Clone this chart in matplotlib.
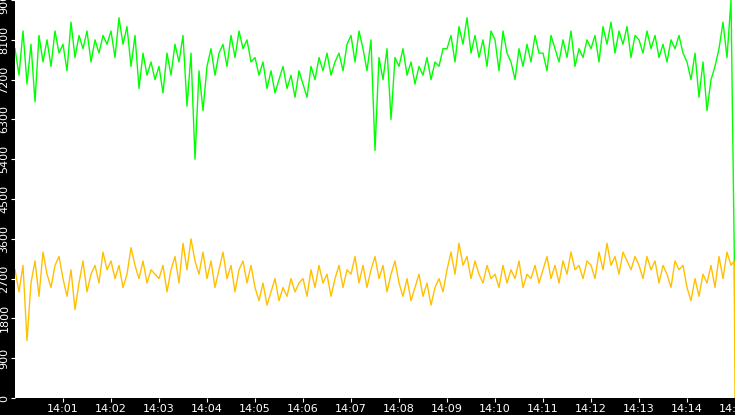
import matplotlib
matplotlib.use("Agg")
import matplotlib.pyplot as plt
import numpy as np

# 5-second samples, one row per minute, starting 14:00:00
green = [
    7900, 7300, 8300, 7100, 8000, 6700, 8200, 7600, 8100, 7500, 8300, 7800,
    8000, 7400, 8500, 7700, 8200, 7900, 8300, 7600, 8100, 7800, 8200, 8000,
    8300, 7700, 8600, 8000, 8400, 7500, 8200, 7000, 7800, 7300, 7600, 7200,
    7500, 6900, 7800, 7300, 8000, 7600, 8200, 6600, 7800, 5400, 7400, 6500,
    7500, 7900, 7300, 7800, 8000, 7500, 8200, 7700, 8300, 7900, 8100, 7600,
    7700, 7300, 7600, 7000, 7400, 6900, 7200, 7500, 7000, 7300, 6800, 7400,
    7100, 6800, 7500, 7200, 7700, 7400, 7800, 7300, 7600, 7800, 7400, 8000,
    8200, 7600, 8300, 7900, 7400, 8100, 5600, 7700, 7200, 7900, 6300, 7700,
    7500, 7900, 7300, 7600, 7100, 7500, 7300, 7700, 7200, 7600, 7500, 7900,
    7900, 8200, 7600, 8400, 8000, 8600, 7800, 8200, 7700, 8100, 7500, 8300,
    8100, 7400, 8300, 7800, 7600, 7200, 7900, 7500, 8000, 7600, 8200, 7800,
    7800, 7400, 8200, 7900, 7600, 8100, 7700, 8300, 7500, 7900, 7700, 8100,
    7900, 8200, 7600, 8400, 8000, 8500, 7800, 8300, 8000, 8400, 7700, 8200,
    8100, 7800, 8300, 7900, 8200, 7700, 8000, 7600, 8100, 7900, 8200, 7800,
    7600, 7200, 7800, 6800, 7600, 6500, 7200, 7500, 7900, 8500, 7700, 9001,
    3400, 1200,
]
yellow = [
    2900, 2400, 3000, 1300, 2600, 3100, 2300, 3300, 2800, 2500, 3000, 3200,
    2700, 2300, 2900, 2000, 2600, 3100, 2400, 2800, 3000, 2600, 3300, 2900,
    3100, 2700, 3000, 2500, 2800, 3400, 3000, 2700, 3100, 2600, 2900, 2800,
    2700, 3000, 2400, 2900, 3200, 2600, 3500, 2900, 3600, 3100, 2800, 3300,
    2700, 3100, 2500, 2900, 3300, 2700, 3000, 2400, 2900, 3100, 2600, 3000,
    2500, 2200, 2600, 2100, 2400, 2700, 2200, 2500, 2300, 2700, 2400, 2600,
    2700, 2300, 2900, 2500, 3000, 2600, 2800, 2300, 2700, 3000, 2500, 2900,
    2800, 3200, 2600, 3000, 2500, 2900, 3200, 2700, 3000, 2400, 2800, 3100,
    2600, 2300, 2700, 2200, 2500, 2800, 2300, 2600, 2100, 2500, 2700, 2400,
    2900, 3300, 2800, 3500, 3000, 3200, 2700, 3100, 2800, 2600, 3000, 2700,
    2800, 2500, 3000, 2600, 2900, 2700, 3100, 2500, 2800, 2700, 3000, 2600,
    2900, 3200, 2700, 3000, 2600, 3100, 2800, 3300, 2900, 3000, 2700, 3100,
    3000, 2700, 3300, 2900, 3500, 3000, 3200, 2800, 3300, 3100, 2900, 3200,
    3000, 2700, 3200, 2900, 3100, 2600, 3000, 2800, 2500, 3100, 2900, 3000,
    2500, 2200, 2700, 2300, 2800, 2600, 3000, 2500, 3200, 2700, 3300, 3000,
    3100, 0,
]
yticks = [0, 900, 1800, 2700, 3600, 4500, 5400, 6300, 7200, 8100, 9001]
xlabels = ["14:%02d" % m for m in range(1, 16)]


def xs(n):
    # 5 s steps, last two samples pile up at the right edge
    t = list(np.arange(n - 1) * 5.0)
    t[-1] = 899.0
    return t + [900.0]


fig = plt.figure(figsize=(7.35, 4.15), dpi=100, facecolor="black")
ax = fig.add_axes([15 / 735, 17 / 415, 720 / 735, 398 / 415])
ax.set_facecolor("white")
ax.plot(xs(len(green)), green, color="#00ff00", lw=1.0)
ax.plot(xs(len(yellow)), yellow, color="#ffc000", lw=1.0)

ax.set_xlim(0, 900)
ax.set_ylim(0, 9001)
ax.set_yticks(yticks)
ax.set_yticklabels([str(v) for v in yticks], rotation=90, va="center")
ax.set_xticks([60 * m for m in range(1, 16)])
ax.set_xticklabels(xlabels)
ax.tick_params(colors="white", labelsize=8, length=3, pad=1)
for s in ax.spines.values():
    s.set_visible(False)

fig.savefig("out.png", dpi=100, facecolor="black")
